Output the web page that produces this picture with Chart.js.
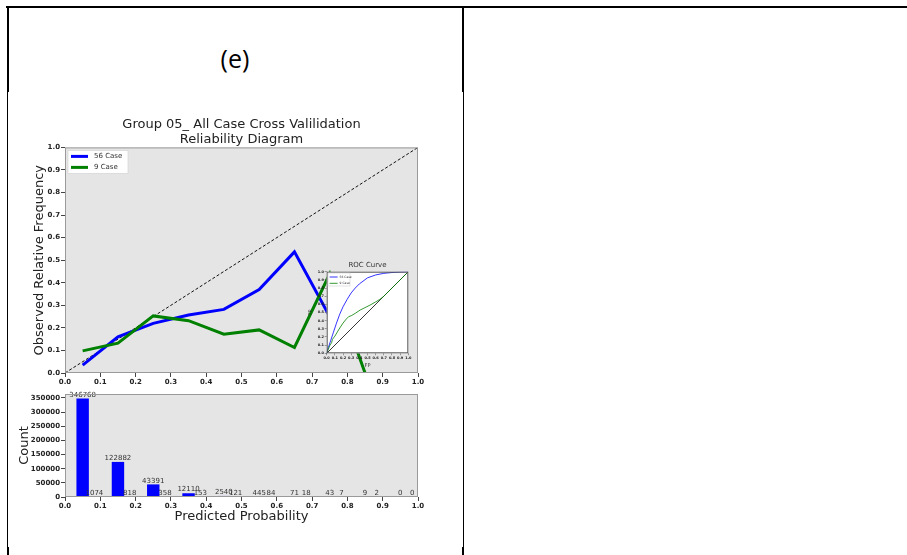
<!DOCTYPE html>
<html><head><meta charset="utf-8">
<script src="https://cdn.jsdelivr.net/npm/chart.js@4.4.0/dist/chart.umd.min.js"></script>
<style>
html,body{margin:0;padding:0;background:#fff;width:907px;height:555px;overflow:hidden;position:relative}
.ln{position:absolute;background:#000}
canvas{position:absolute}
#lbl{position:absolute;left:8px;top:38px;width:454px;text-align:center;font-family:"Open Sans",sans-serif;font-size:25px;line-height:40px;color:#000}
</style></head><body>
<div class="ln" style="left:6px;top:6px;width:901px;height:2px"></div>
<div class="ln" style="left:7px;top:6px;width:2px;height:86px"></div>
<div class="ln" style="left:7px;top:92px;width:1px;height:455px"></div>
<div class="ln" style="left:7px;top:547px;width:2px;height:8px"></div>
<div class="ln" style="left:462px;top:6px;width:2px;height:86px"></div>
<div class="ln" style="left:463px;top:92px;width:1px;height:455px"></div>
<div class="ln" style="left:462px;top:547px;width:2px;height:8px"></div>
<div id="lbl">(e)</div>
<canvas id="rel" width="454" height="293" style="left:8px;top:92px"></canvas>
<canvas id="hist" width="454" height="165" style="left:8px;top:383px"></canvas>
<canvas id="roc" width="116" height="114" style="left:300px;top:258px"></canvas>
<script>
// ---------- data ----------
const seriesNames = ['56 Case', '9 Case'];
const binCenters = [0.05, 0.15, 0.25, 0.35, 0.45, 0.55, 0.65, 0.75, 0.85, 0.95];
const obsFreq56 = [0.035, 0.16, 0.22, 0.257, 0.282, 0.37, 0.537, 0.25, 0.22, null];
const obsFreq9  = [0.098, 0.132, 0.253, 0.232, 0.172, 0.191, 0.113, 0.44, 0.0, null];
const count56 = [346768, 122882, 43391, 12110, 2540, 445, 71, 43, 9, 0];
const count9  = [1074, 818, 358, 153, 121, 84, 18, 7, 2, 0];
const countTicks = [0, 50000, 100000, 150000, 200000, 250000, 300000, 350000];
const rocFP56 = [0, 0.02, 0.05, 0.08, 0.12, 0.16, 0.2, 0.25, 0.3, 0.35, 0.4, 0.5, 0.6, 0.7, 0.8, 0.9, 1.0];
const rocTP56 = [0, 0.07, 0.16, 0.25, 0.37, 0.48, 0.57, 0.66, 0.74, 0.8, 0.85, 0.925, 0.96, 0.98, 0.99, 0.997, 1.0];
const rocFP9 = [0, 0.02, 0.04, 0.06, 0.07, 0.1, 0.13, 0.16, 0.2, 0.24, 0.27, 0.3, 0.35, 0.41, 0.47, 0.53, 0.6, 0.65, 0.69, 1.0];
const rocTP9 = [0, 0.05, 0.1, 0.13, 0.17, 0.21, 0.26, 0.31, 0.37, 0.42, 0.45, 0.46, 0.49, 0.53, 0.56, 0.59, 0.63, 0.66, 0.69, 1.0];
const probRange = [0, 1];
const titleLines = ['Group 05_ All Case Cross Valilidation', 'Reliability Diagram'];

// ---------- helpers ----------
Chart.defaults.font.family = '"DejaVu Sans", sans-serif';
Chart.defaults.color = '#222';
const BLUE = '#0000ff', GREEN = '#008000';
const tickFont = {size: 7, weight: 'bold'};
const fmt1 = v => Number(v).toFixed(1);

const framePlugin = {
  id: 'frame',
  beforeDatasetsDraw(chart, args, o) {
    const {ctx, chartArea: a} = chart;
    ctx.save(); ctx.fillStyle = o.bg;
    ctx.fillRect(a.left, a.top, a.right - a.left, a.bottom - a.top); ctx.restore();
  },
  afterDraw(chart, args, o) {
    const {ctx, chartArea: a} = chart;
    ctx.save(); ctx.strokeStyle = o.border; ctx.lineWidth = o.lw || 1;
    ctx.strokeRect(a.left + 0.5, a.top + 0.5, a.right - a.left - 1, a.bottom - a.top - 1); ctx.restore();
  }
};
const boxLegend = {
  id: 'boxLegend',
  afterDraw(chart, args, o) {
    if (!o || !o.show) return;
    const {ctx, chartArea: a} = chart;
    const items = chart.data.datasets.filter(d => d.label);
    const x = a.left + o.dx, y = a.top + o.dy;
    ctx.save();
    ctx.fillStyle = 'rgba(255,255,255,0.95)';
    ctx.strokeStyle = '#d0d0d0'; ctx.lineWidth = 0.6;
    ctx.fillRect(x, y, o.w, o.h); ctx.strokeRect(x, y, o.w, o.h);
    ctx.font = o.size + 'px "DejaVu Sans"';
    ctx.textBaseline = 'middle'; ctx.textAlign = 'left';
    items.forEach((d, i) => {
      const yy = y + o.first + o.row * i;
      ctx.strokeStyle = d.borderColor; ctx.lineWidth = o.lw;
      ctx.beginPath(); ctx.moveTo(x + o.padX, yy); ctx.lineTo(x + o.padX + o.len, yy); ctx.stroke();
      ctx.fillStyle = '#333';
      ctx.fillText(d.label, x + o.padX + o.len + o.gap, yy);
    });
    ctx.restore();
  }
};
const barLabels = {
  id: 'barLabels',
  afterDatasetsDraw(chart) {
    const {ctx} = chart;
    ctx.save();
    ctx.font = '7px "DejaVu Sans"'; ctx.fillStyle = '#333';
    ctx.textAlign = 'center'; ctx.textBaseline = 'bottom';
    chart.data.datasets.forEach((ds, i) => {
      chart.getDatasetMeta(i).data.forEach((el, j) => {
        ctx.fillText(String(ds.data[j].y), el.x, el.y - 0.5);
      });
    });
    ctx.restore();
  }
};
function axisX(height, extra) {
  return Object.assign({
    type: 'linear', min: probRange[0], max: probRange[1], offset: false,
    afterFit: s => { s.height = height; },
    ticks: {stepSize: 0.1, font: tickFont, padding: 1, maxRotation: 0, autoSkip: false, includeBounds: false, callback: fmt1},
    grid: {display: true, drawOnChartArea: false, tickLength: 4, color: '#444', offset: false},
    border: {display: false}
  }, extra || {});
}

// ---------- reliability diagram ----------
const toPts = (xs, ys) => xs.map((x, i) => ({x, y: ys[i]}));
new Chart(document.getElementById('rel'), {
  type: 'line',
  data: {datasets: [
    {label: seriesNames[0], data: toPts(binCenters, obsFreq56), borderColor: BLUE, borderWidth: 3, pointRadius: 0, tension: 0, order: 2},
    {label: seriesNames[1], data: toPts(binCenters, obsFreq9), borderColor: GREEN, borderWidth: 3, pointRadius: 0, tension: 0, order: 1},
    {data: toPts(probRange, probRange), borderColor: '#111', borderWidth: 1, borderDash: [3, 2], pointRadius: 0, order: 3}
  ]},
  options: {
    responsive: false, animation: false, events: [],
    layout: {padding: {left: 0, right: 44, top: 0, bottom: 0}},
    plugins: {
      legend: {display: false}, tooltip: {enabled: false},
      title: {display: true, fullSize: false, text: titleLines, color: '#222', font: {size: 13, weight: 'normal', lineHeight: 1.15}, padding: {top: 25.5, bottom: 0}},
      frame: {bg: '#e5e5e5', border: '#9a9a9a'},
      boxLegend: {show: true, dx: 3, dy: 3, w: 60, h: 23, first: 6, row: 11, padX: 3, len: 17, gap: 6, lw: 3, size: 7}
    },
    scales: {
      x: axisX(12),
      y: {
        type: 'linear', min: 0, max: 1,
        afterFit: s => { s.width = 57; },
        ticks: {stepSize: 0.1, font: tickFont, padding: 1, includeBounds: false, callback: fmt1},
        grid: {display: true, drawOnChartArea: false, tickLength: 4, color: '#444'},
        border: {display: false},
        title: {display: true, text: 'Observed Relative Frequency', color: '#222', font: {size: 13}, padding: {top: 24.2, bottom: 0}}
      }
    }
  },
  plugins: [framePlugin, boxLegend]
});

// ---------- histogram ----------
const barOffset = 1 / 30;
new Chart(document.getElementById('hist'), {
  type: 'bar',
  data: {datasets: [
    {label: seriesNames[0], data: binCenters.map((x, i) => ({x, y: count56[i]})), backgroundColor: BLUE, grouped: false, barPercentage: 1, categoryPercentage: 1},
    {label: seriesNames[1], data: binCenters.map((x, i) => ({x: x + barOffset, y: count9[i]})), backgroundColor: GREEN, grouped: false, barPercentage: 1, categoryPercentage: 1}
  ]},
  options: {
    responsive: false, animation: false, events: [],
    layout: {padding: {left: 0, right: 44, top: 11, bottom: 0}},
    plugins: {legend: {display: false}, tooltip: {enabled: false}, frame: {bg: '#e5e5e5', border: '#9a9a9a'}},
    scales: {
      x: axisX(51, {title: {display: true, text: 'Predicted Probability', color: '#222', font: {size: 13}, padding: {top: 0, bottom: 23.5}}}),
      y: {
        type: 'linear', min: 0, max: Math.max(...count56) * 1.05,
        afterFit: s => { s.width = 57; },
        afterBuildTicks: s => { s.ticks = countTicks.map(v => ({value: v})); },
        ticks: {font: tickFont, padding: 1, autoSkip: false, callback: v => String(v)},
        grid: {display: true, drawOnChartArea: false, tickLength: 4, color: '#444'},
        border: {display: false},
        title: {display: true, text: 'Count', color: '#222', font: {size: 13}, padding: {top: 9.2, bottom: 0}}
      }
    }
  },
  plugins: [framePlugin, barLabels]
});

// ---------- ROC inset ----------
const smallTick = {size: 3.5, weight: 'bold'};
new Chart(document.getElementById('roc'), {
  type: 'line',
  data: {datasets: [
    {label: seriesNames[0], data: toPts(rocFP56, rocTP56), borderColor: BLUE, borderWidth: 0.8, pointRadius: 0, tension: 0, order: 2},
    {label: seriesNames[1], data: toPts(rocFP9, rocTP9), borderColor: GREEN, borderWidth: 0.8, pointRadius: 0, tension: 0, order: 1},
    {data: toPts(probRange, probRange), borderColor: '#000', borderWidth: 0.8, pointRadius: 0, order: 3}
  ]},
  options: {
    responsive: false, animation: false, events: [],
    layout: {padding: {left: 0, right: 7.7, top: 0, bottom: 0}},
    plugins: {
      legend: {display: false}, tooltip: {enabled: false},
      title: {display: true, fullSize: false, text: 'ROC Curve', color: '#333', font: {size: 7, weight: 'normal', lineHeight: 1.2}, padding: {top: 3, bottom: 2.3}},
      frame: {bg: '#ffffff', border: '#555'},
      boxLegend: {show: true, dx: 1.3, dy: 1.3, w: 22, h: 13, first: 4, row: 6.3, padX: 1.6, len: 8, gap: 2, lw: 0.8, size: 3}
    },
    scales: {
      x: {
        type: 'linear', min: 0, max: 1,
        afterFit: s => { s.height = 18.7; },
        ticks: {stepSize: 0.1, font: smallTick, padding: 0.8, maxRotation: 0, autoSkip: false, includeBounds: false, callback: fmt1},
        grid: {display: true, drawOnChartArea: false, tickLength: 2, color: '#444', lineWidth: 0.5},
        border: {display: false},
        title: {display: true, text: 'FP', color: '#333', font: {size: 5}, padding: {top: 0, bottom: 3}}
      },
      y: {
        type: 'linear', min: 0, max: 1,
        afterFit: s => { s.width = 26.7; },
        ticks: {stepSize: 0.1, font: smallTick, padding: 0.8, autoSkip: false, includeBounds: false, callback: fmt1},
        grid: {display: true, drawOnChartArea: false, tickLength: 2, color: '#444', lineWidth: 0.5},
        border: {display: false},
        title: {display: true, text: 'TP', color: '#333', font: {size: 5}, padding: {top: 8, bottom: 0}}
      }
    }
  },
  plugins: [framePlugin, boxLegend]
});
</script>
</body></html>
